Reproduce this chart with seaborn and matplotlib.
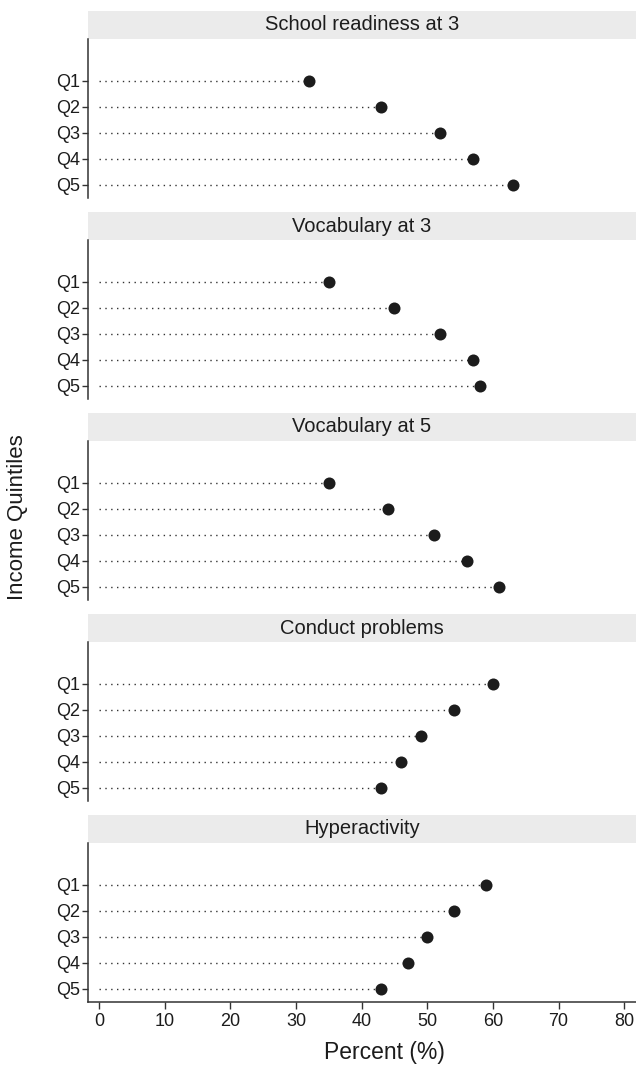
import pandas as pd
import seaborn as sns
import matplotlib.pyplot as plt
from matplotlib.patches import Rectangle

# Values (percent)
outcomes = ["School readiness at 3", "Vocabulary at 3", "Vocabulary at 5",
            "Conduct problems", "Hyperactivity"]
quintiles = ["Q1", "Q2", "Q3", "Q4", "Q5"]
school_3 = [32, 43, 52, 57, 63]
vocab_3 = [35, 45, 52, 57, 58]
vocab_5 = [35, 44, 51, 56, 61]
conduct = [60, 54, 49, 46, 43]
hyper = [59, 54, 50, 47, 43]
x_ticks = [0, 10, 20, 30, 40, 50, 60, 70, 80]

series = [school_3, vocab_3, vocab_5, conduct, hyper]
rows = []
for name, vals in zip(outcomes, series):
    for q, v in zip(quintiles, vals):
        rows.append({"outcome": name, "quintile": q, "percent": v})
data = pd.DataFrame(rows)

sns.set_style("ticks")
plt.rcParams["font.family"] = ["Liberation Sans", "DejaVu Sans"]

W, H = 636, 1066
fig = plt.figure(figsize=(W / 100, H / 100), dpi=100)
ink = "#1c1c1c"

for i, name in enumerate(outcomes):
    top = 39 + i * 201
    ax = fig.add_axes([88 / W, 1 - (top + 159) / H, 548 / W, 159 / H])
    sub = data[data["outcome"] == name]

    # dotted leader lines from 0 to the value
    ax.hlines(y=range(len(sub)), xmin=0, xmax=sub["percent"], color="#333333",
              linewidth=1.0, linestyle=(0, (1, 3.2)), zorder=1)
    sns.scatterplot(data=sub, x="percent", y="quintile", color=ink, s=75,
                    edgecolor=ink, linewidth=0, ax=ax, zorder=3)

    ax.set_xlim(-1.7, 81.8)
    ax.set_ylim(4.5, -1.6)
    ax.set_xlabel("")
    ax.set_ylabel("")
    ax.tick_params(axis="y", length=4, width=1, color="#333333",
                   labelsize=13, labelcolor=ink, pad=2)
    for s in ["top", "right"]:
        ax.spines[s].set_visible(False)
    ax.spines["left"].set_color("#333333")
    ax.spines["left"].set_linewidth(1.1)

    if i < len(outcomes) - 1:
        ax.spines["bottom"].set_visible(False)
        ax.set_xticks([])
    else:
        ax.spines["bottom"].set_color("#333333")
        ax.spines["bottom"].set_linewidth(1.1)
        ax.set_xticks(x_ticks)
        ax.tick_params(axis="x", length=5, width=1, color="#333333",
                       labelsize=13, labelcolor=ink, pad=3)

    # grey strip header
    strip_h = 28 / 159
    ax.add_patch(Rectangle((0, 1), 1, strip_h, transform=ax.transAxes,
                           facecolor="#ebebeb", edgecolor="none", clip_on=False))
    ax.text(0.5, 1 + strip_h / 2, name, transform=ax.transAxes, ha="center",
            va="center", fontsize=14.5, color=ink)

fig.text(384 / W, 1 - 1052 / H, "Percent (%)", ha="center", va="center",
         fontsize=16.5, color=ink)
fig.text(18 / W, 1 - 517 / H, "Income Quintiles", rotation=90, ha="center",
         va="center", fontsize=16, color=ink)

plt.savefig("out.png", dpi=100)
